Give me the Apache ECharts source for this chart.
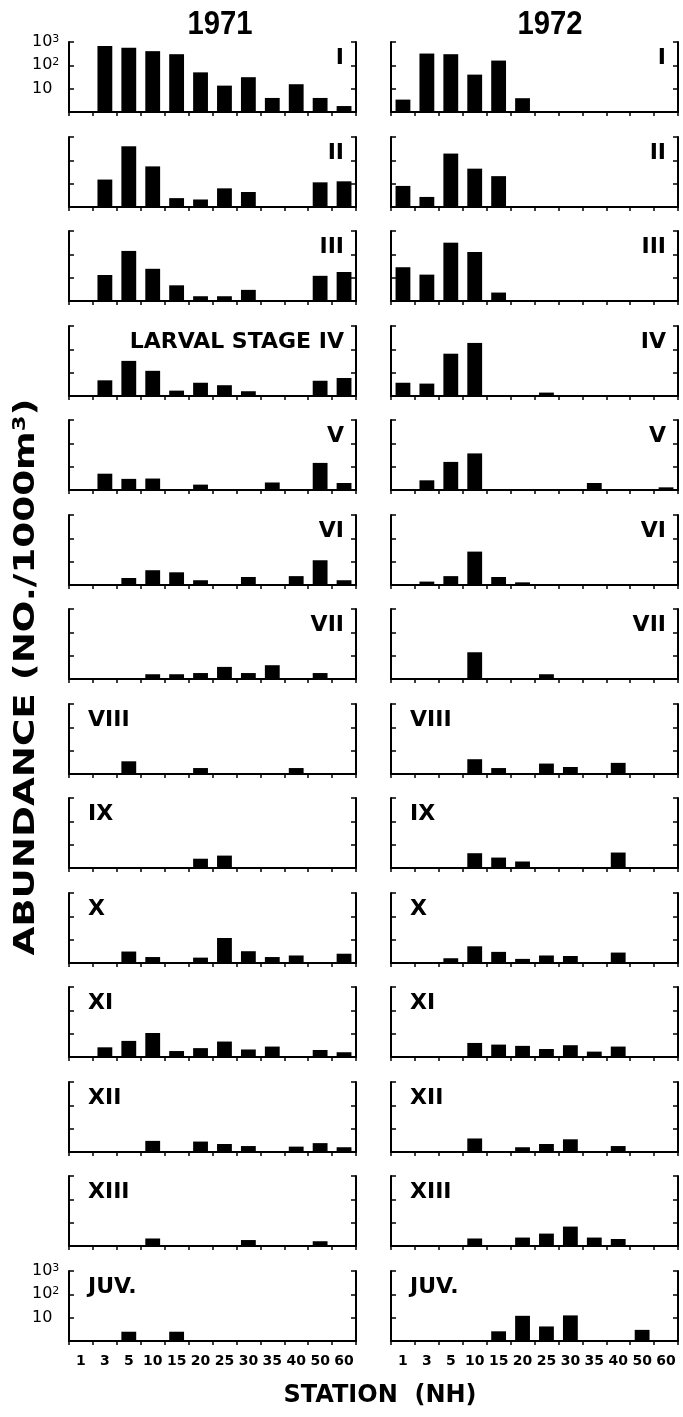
<!DOCTYPE html>
<html>
<head>
<meta charset="utf-8">
<title>Larval abundance by station, 1971 and 1972</title>
<script src="https://cdn.jsdelivr.net/npm/echarts@6/dist/echarts.min.js"></script>
<style>
  html, body { margin: 0; padding: 0; background: #ffffff; }
  #chart { width: 683px; height: 1417px; }
</style>
</head>
<body>
<div id="chart"></div>
<script>
// Stations (NH line) along the x axis
const stations = ['1', '3', '5', '10', '15', '20', '25', '30', '35', '40', '50', '60'];

// Stage names, one row of panels each
const stages = ['I', 'II', 'III', 'IV', 'V', 'VI', 'VII', 'VIII', 'IX', 'X', 'XI', 'XII', 'XIII', 'JUV.'];
const years = ['1971', '1972'];

// Abundance (no./1000 m3), 1971; null = none caught
const s1971_I    = [null, 670, 570, 405, 300, 50, 13.5, 31, 4, 15.5, 4, 1.8];
const s1971_II   = [null, 15, 400, 55, 2.4, 2.1, 6.3, 4.4, null, null, 11.4, 12.6];
const s1971_III  = [null, 13, 140, 24, 4.7, 1.6, 1.6, 3, null, null, 12, 17.5];
const s1971_IV   = [null, 4.7, 32, 12, 1.7, 3.7, 2.9, 1.6, null, null, 4.5, 5.9];
const s1971_V    = [null, 5, 3, 3.1, null, 1.7, null, null, 2.1, null, 14.5, 2];
const s1971_VI   = [null, null, 2, 4.3, 3.5, 1.6, null, 2.2, null, 2.4, 11.5, 1.6];
const s1971_VII  = [null, null, null, 1.6, 1.6, 1.8, 3.3, 1.8, 3.9, null, 1.8, null];
const s1971_VIII = [null, null, 3.5, null, null, 1.8, null, null, null, 1.8, null, null];
const s1971_IX   = [null, null, null, null, null, 2.5, 3.4, null, null, null, null, null];
const s1971_X    = [null, null, 3.1, 1.8, null, 1.7, 11.8, 3.2, 1.8, 2.1, null, 2.5];
const s1971_XI   = [null, 2.6, 4.9, 10.7, 1.8, 2.4, 4.6, 2.1, 2.8, null, 2, 1.6];
const s1971_XII  = [null, null, null, 3, null, 2.8, 2.2, 1.8, null, 1.7, 2.4, 1.6];
const s1971_XIII = [null, null, null, 2.1, null, null, null, 1.8, null, null, 1.6, null];
const s1971_JUV  = [null, null, 2.5, null, 2.5, null, null, null, null, null, null, null];

// Abundance (no./1000 m3), 1972
const s1972_I    = [3.4, 320, 300, 40, 160, 3.9, null, null, null, null, null, null];
const s1972_II   = [8, 2.7, 195, 44, 21, null, null, null, null, null, null, null];
const s1972_III  = [28, 13.5, 316, 126, 2.3, null, null, null, null, null, null, null];
const s1972_IV   = [3.7, 3.4, 65, 188, null, null, 1.4, null, null, null, null, null];
const s1972_V    = [null, 2.6, 16, 37, null, null, null, null, 2, null, null, 1.3];
const s1972_VI   = [null, 1.4, 2.4, 27, 2.2, 1.3, null, null, null, null, null, null];
const s1972_VII  = [null, null, null, 14, null, null, 1.6, null, null, null, null, null];
const s1972_VIII = [null, null, null, 4.3, 1.8, null, 2.8, 2, null, 3, null, null];
const s1972_IX   = [null, null, null, 4.3, 2.8, 1.9, null, null, null, 4.6, null, null];
const s1972_X    = [null, null, 1.6, 5.2, 3, 1.5, 2.1, 2, null, 2.8, null, null];
const s1972_XI   = [null, null, null, 4, 3.4, 3, 2.2, 3.2, 1.7, 2.8, null, null];
const s1972_XII  = [null, null, null, 3.8, null, 1.6, 2.2, 3.5, null, 1.8, null, null];
const s1972_XIII = [null, null, null, 2.1, null, 2.3, 3.4, 6.8, 2.3, 2, null, null];
const s1972_JUV  = [null, null, null, null, 2.6, 12, 4.2, 12.5, null, null, 3, null];

const columns = [
  [s1971_I, s1971_II, s1971_III, s1971_IV, s1971_V, s1971_VI, s1971_VII,
   s1971_VIII, s1971_IX, s1971_X, s1971_XI, s1971_XII, s1971_XIII, s1971_JUV],
  [s1972_I, s1972_II, s1972_III, s1972_IV, s1972_V, s1972_VI, s1972_VII,
   s1972_VIII, s1972_IX, s1972_X, s1972_XI, s1972_XII, s1972_XIII, s1972_JUV]
];

// Panel captions (1971 stage IV carries the full caption)
const panelLabels = [
  ['I', 'II', 'III', 'LARVAL STAGE IV', 'V', 'VI', 'VII', 'VIII', 'IX', 'X', 'XI', 'XII', 'XIII', 'JUV.'],
  stages
];

// Layout
const colLeft = [69, 391];
const plotW = 287;
const top0 = 42;
const pitch = 94.5;
const plotH = 70;
const FONT = 'DejaVu Sans';

const grids = [], xAxes = [], yAxes = [], series = [], graphics = [];

const logLabel = v => {
  const e = Math.round(Math.log10(v));
  if (e <= 0) return '';
  if (e === 1) return '{n|10}';
  return '{n|10}{s|' + e + '}';
};

for (let c = 0; c < 2; c++) {
  for (let r = 0; r < stages.length; r++) {
    const g = c * stages.length + r;
    const top = Math.round(top0 + r * pitch);
    const bottomRow = r === stages.length - 1;
    const yLabels = c === 0 && (r === 0 || bottomRow);

    grids.push({ left: colLeft[c], top: top, width: plotW, height: plotH, containLabel: false });

    xAxes.push({
      type: 'category', gridIndex: g, data: stations, boundaryGap: true,
      axisLine: { show: true, onZero: false, lineStyle: { color: '#000', width: 2 } },
      axisTick: { show: true, inside: false, length: 4, interval: 0, lineStyle: { color: '#000', width: 1.5 } },
      axisLabel: {
        show: bottomRow, interval: 0, margin: 13, color: '#000',
        fontFamily: FONT, fontWeight: 'bold', fontSize: 14
      },
      splitLine: { show: false }
    });

    const yBase = {
      type: 'log', logBase: 10, min: 1, max: 1000, splitNumber: 3, gridIndex: g,
      axisLine: { show: true, lineStyle: { color: '#000', width: 2 } },
      axisTick: { show: true, inside: true, length: 5, lineStyle: { color: '#000', width: 1.5 } },
      splitLine: { show: false }
    };
    yAxes.push(Object.assign({}, yBase, {
      position: 'left',
      axisLabel: {
        show: yLabels, showMaxLabel: true, showMinLabel: false, align: 'left', margin: 37,
        formatter: logLabel,
        rich: {
          n: { fontFamily: FONT, fontSize: 16, color: '#000', lineHeight: 17 },
          s: { fontFamily: FONT, fontSize: 11, color: '#000', verticalAlign: 'top', lineHeight: 11 }
        }
      }
    }));
    yAxes.push(Object.assign({}, yBase, { position: 'right', axisLabel: { show: false } }));

    series.push({
      type: 'bar', xAxisIndex: g, yAxisIndex: 2 * g,
      data: columns[c][r], barWidth: '62%',
      itemStyle: { color: '#000' }, silent: true, animation: false
    });

    // Stage caption: upper right for early stages, upper left for later ones
    const rightSide = r < 7;
    graphics.push({
      type: 'text', silent: true,
      x: rightSide ? colLeft[c] + plotW - 12 : colLeft[c] + 19,
      y: top + 16,
      style: {
        text: panelLabels[c][r], fill: '#000', fontFamily: FONT, fontWeight: 'bold',
        fontSize: 22,
        align: rightSide ? 'right' : 'left', verticalAlign: 'middle'
      }
    });
  }
}

// Year headings
const yearX = [220, 550];
years.forEach((yr, i) => {
  graphics.push({
    type: 'text', silent: true, x: yearX[i], y: 25, scaleX: 0.86,
    style: {
      text: yr, fill: '#000', fontFamily: 'Liberation Sans', fontWeight: 'bold',
      fontSize: 34, align: 'center', verticalAlign: 'middle'
    }
  });
});

// Axis titles
graphics.push({
  type: 'text', silent: true, x: 27, y: 677, rotation: Math.PI / 2, scaleX: 1.33,
  style: {
    text: '{a|ABUNDANCE (NO./1000m}{s|3}{a|)}',
    align: 'center', verticalAlign: 'middle',
    rich: {
      a: { fontFamily: FONT, fontWeight: 'bold', fontSize: 28, fill: '#000', color: '#000', lineHeight: 30 },
      s: { fontFamily: FONT, fontWeight: 'bold', fontSize: 17, fill: '#000', color: '#000', verticalAlign: 'top', lineHeight: 17 }
    }
  }
});
graphics.push({
  type: 'text', silent: true, x: 380, y: 1396,
  style: {
    text: 'STATION  (NH)', fill: '#000', fontFamily: FONT, fontWeight: 'bold', fontSize: 24,
    align: 'center', verticalAlign: 'middle'
  }
});

const chart = echarts.init(document.getElementById('chart'), null, { renderer: 'canvas' });
chart.setOption({
  backgroundColor: '#ffffff',
  animation: false,
  grid: grids,
  xAxis: xAxes,
  yAxis: yAxes,
  series: series,
  graphic: graphics
});
</script>
</body>
</html>
